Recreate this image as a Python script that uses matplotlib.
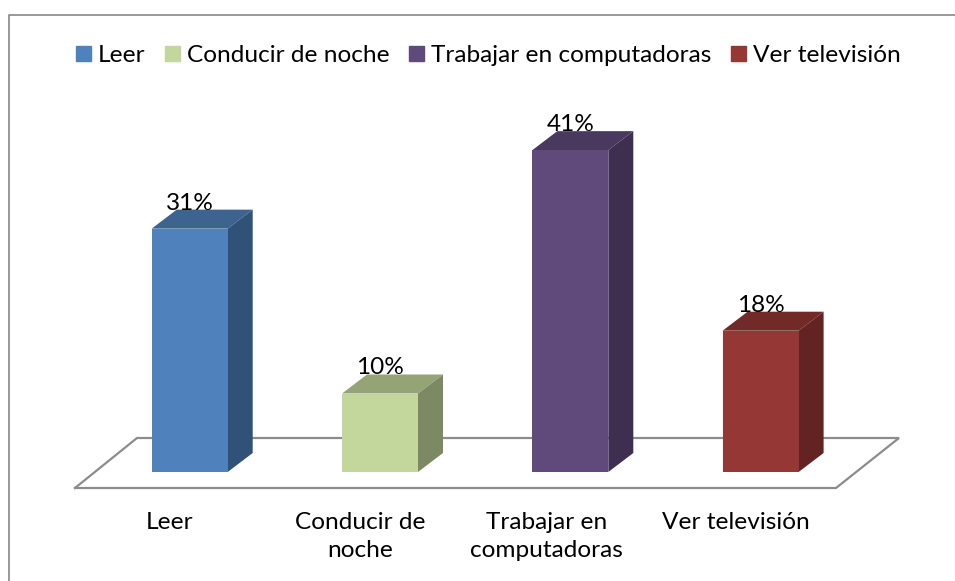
import matplotlib
matplotlib.use("Agg")
import matplotlib.pyplot as plt
from matplotlib.lines import Line2D
from matplotlib.patches import Patch

plt.rcParams['font.family'] = ['Lato', 'DejaVu Sans']

categories = ["Leer", "Conducir de noche", "Trabajar en computadoras", "Ver televisión"]
tick_labels = ["Leer", "Conducir de\nnoche", "Trabajar en\ncomputadoras", "Ver televisión"]
values = [31, 10, 41, 18]
front_colors = ["#4F81BD", "#C3D69B", "#604A7B", "#953735"]
top_colors = ["#3D6390", "#95A476", "#4A395E", "#722A29"]
side_colors = ["#315278", "#7D8963", "#3E2F50", "#622322"]

W, H = 955, 581
fig = plt.figure(figsize=(W / 100, H / 100), dpi=100, facecolor="white")

# axes placement in pixels
L, R, T, B = 75, 899, 100, 488
ax = fig.add_axes([L / W, 1 - B / H, (R - L) / W, (B - T) / H])
px_x = 190.3      # pixels per category
px_y = 7.85       # pixels per percentage point
x0_px, y0_px = 189.7, 472
ax.set_xlim((L - x0_px) / px_x, (R - x0_px) / px_x)
ax.set_ylim((y0_px - B) / px_y, (y0_px - T) / px_y)

bar_w = 76 / px_x
dx = 25 / px_x
dy = 19 / px_y
label_shift_px = [-20, -20, -23.5, -25]

# floor
fx0, fx1 = (L - x0_px) / px_x, (836 - x0_px) / px_x
bx0, bx1 = (137 - x0_px) / px_x, (R - x0_px) / px_x
fy, by = (y0_px - 488) / px_y, (y0_px - 438) / px_y
ax.plot([fx0, fx1, bx1, bx0, fx0], [fy, fy, by, by, fy], color="#8C8C8C", lw=1.6,
        zorder=1, clip_on=False, solid_joinstyle="miter")

xs = list(range(len(values)))
for x, v, fc, tc, sc in zip(xs, values, front_colors, top_colors, side_colors):
    xl, xr = x - bar_w / 2, x + bar_w / 2
    ax.bar(x, v, width=bar_w, color=fc, zorder=3, linewidth=0)
    ax.fill([xl, xr, xr + dx, xl + dx], [v, v, v + dy, v + dy], color=tc, lw=0, zorder=2.5)
    ax.fill([xr, xr + dx, xr + dx, xr], [0, dy, v + dy, v], color=sc, lw=0, zorder=2.5)
    ax.text(x, v + dy, f"{v}%", ha="center", va="baseline", fontsize=17.6, color="black", zorder=5)

ax.set_xticks([x + s / px_x for x, s in zip(xs, label_shift_px)], tick_labels,
              fontsize=17.6, linespacing=1.42)
ax.tick_params(axis="x", length=0, pad=17)
ax.set_yticks([])
for s in ax.spines.values():
    s.set_visible(False)
ax.patch.set_alpha(0)

handles = [Patch(facecolor=c, edgecolor=c, label=n) for c, n in zip(front_colors, categories)]
fig.legend(handles=handles, loc="upper left", bbox_to_anchor=(76 / W, 1 - 45 / H), ncol=4,
           frameon=False, fontsize=17.6, handlelength=0.6, handleheight=0.6,
           handletextpad=0.3, columnspacing=0.8, borderpad=0, borderaxespad=0)

# chart frame (only top and left edges are inside the crop)
fig.add_artist(Line2D([8.5 / W, 8.5 / W, 1], [0, 1 - 14.5 / H, 1 - 14.5 / H],
                      color="#868686", lw=1.2, transform=fig.transFigure))

fig.savefig("out.png", dpi=100, facecolor="white")
